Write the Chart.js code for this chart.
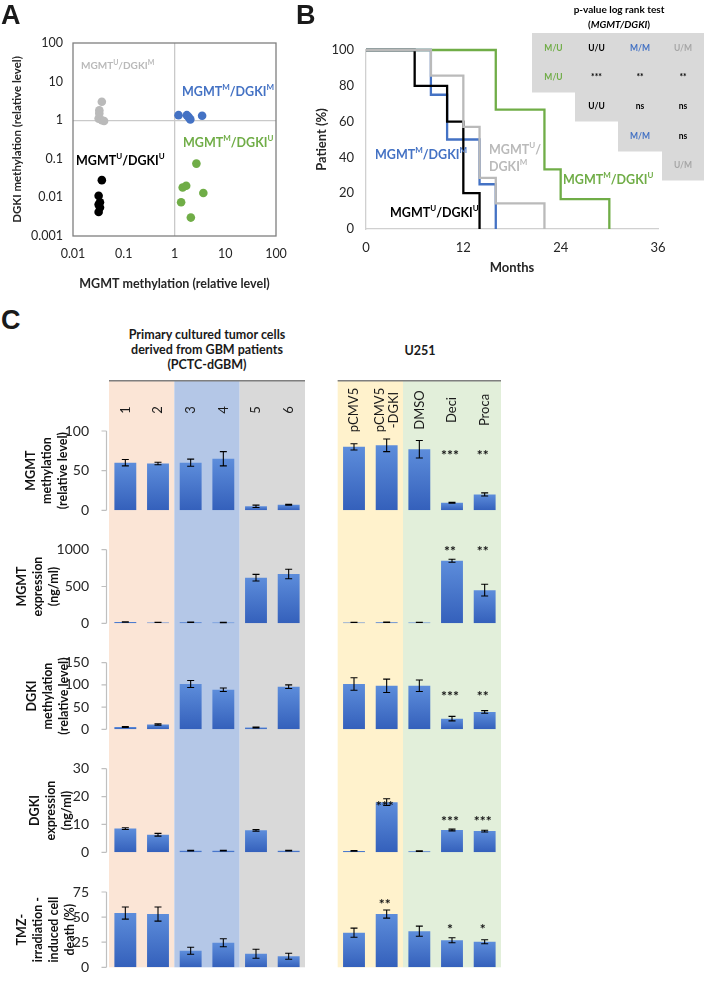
<!DOCTYPE html>
<html>
<head>
<meta charset="utf-8">
<title>MGMT / DGKI methylation</title>
<script src="https://cdn.jsdelivr.net/npm/chart.js@4.4.1/dist/chart.umd.min.js"></script>
<style>
  body { margin: 0; background: #fff; }
  #page { position: relative; width: 704px; height: 982px; overflow: hidden; font-family: Lato, sans-serif; color: #1a1a1a; }
  canvas { position: absolute; }
  .letter { position: absolute; font: bold 27px "Liberation Sans", Arial, sans-serif; line-height: 1; z-index: 2; }
  .head { position: absolute; font-weight: bold; font-size: 12.5px; line-height: 15px; text-align: center; z-index: 2; }
</style>
</head>
<body>
<div id="page">
  <canvas id="chartA" width="297" height="300" style="left:0;top:0"></canvas>
  <canvas id="chartB" width="407" height="300" style="left:297px;top:0"></canvas>
  <canvas id="c1" width="520" height="154" style="left:0;top:376px"></canvas>
  <canvas id="c2" width="520" height="113" style="left:0;top:530px"></canvas>
  <canvas id="c3" width="520" height="106" style="left:0;top:643px"></canvas>
  <canvas id="c4" width="520" height="123" style="left:0;top:749px"></canvas>
  <canvas id="c5" width="520" height="115" style="left:0;top:872px"></canvas>
  <div class="letter" style="left:1px;top:2px">A</div>
  <div class="letter" style="left:296px;top:2px">B</div>
  <div class="letter" style="left:1px;top:307px">C</div>
  <div class="head" style="left:107px;width:200px;top:327px">Primary cultured tumor cells<br>derived from GBM patients<br>(PCTC-dGBM)</div>
  <div class="head" style="left:370px;width:100px;top:343px">U251</div>
</div>
<script>
// ---- panel A : methylation scatter (log / log)
const aTicksX = [0.01, 0.1, 1, 10, 100];
const aTicksY = [0.001, 0.01, 0.1, 1, 10, 100];
const umX = [0.037, 0.033, 0.033, 0.032, 0.037, 0.041];
const umY = [3.0, 1.8, 1.5, 1.1, 1.0, 0.95];
const mmX = [1.2, 1.75, 1.9, 2.05, 3.5];
const mmY = [1.35, 1.35, 1.2, 1.05, 1.3];
const muX = [2.7, 1.45, 1.7, 3.7, 1.35, 2.1];
const muY = [0.075, 0.018, 0.02, 0.013, 0.0075, 0.003];
const uuX = [0.037, 0.032, 0.034, 0.032, 0.034, 0.032];
const uuY = [0.028, 0.011, 0.0075, 0.0065, 0.0055, 0.0042];

// ---- panel B : survival (months, % patients)
const bTicksX = [0, 12, 24, 36];
const bTicksY = [0, 20, 40, 60, 80, 100];
const uuMonths = [0, 6, 10, 12, 14];
const uuSurv = [100, 80, 60, 20, 0];
const mmMonths = [0, 8, 10, 14, 16];
const mmSurv = [100, 75, 50, 25, 0];
const umMonths = [0, 8, 12, 14, 16, 22];
const umSurv = [100, 85.7, 57.1, 28.6, 14.3, 0];
const muMonths = [0, 16, 22, 24, 30];
const muSurv = [100, 66.7, 33.3, 16.7, 0];
const tableRows = [
  ['M/U', 'U/U', 'M/M', 'U/M'],
  ['M/U', '***', '**', '**'],
  ['U/U', 'ns', 'ns'],
  ['M/M', 'ns'],
  ['U/M']
];

// ---- panel C : cell lines
const cCategories = ['1', '2', '3', '4', '5', '6', '', 'pCMV5', ['pCMV5', '-DGKI'], 'DMSO', 'Deci', 'Proca'];
const mgmtMethTicks = [0, 50, 100];
const mgmtMeth = [60, 59, 60, 65, 5, 7, null, 80, 82, 77, 9.5, 20];
const mgmtMethErr = [4, 1.5, 4.5, 9, 1.5, 0.5, null, 4, 8, 11, 0.5, 2];
const mgmtMethStars = ['', '', '', '', '', '', '', '', '', '', '***', '**'];
const mgmtExprTicks = [0, 500, 1000];
const mgmtExpr = [18, 12, 15, 10, 620, 670, null, 12, 14, 12, 850, 450];
const mgmtExprErr = [3, 2, 3, 2, 45, 65, null, 2, 2, 2, 20, 80];
const mgmtExprStars = ['', '', '', '', '', '', '', '', '', '', '**', '**'];
const dgkiMethTicks = [0, 50, 100, 150];
const dgkiMeth = [5, 11, 102, 89, 4, 96, null, 102, 98, 98, 24, 39];
const dgkiMethErr = [1, 1.5, 8, 4, 1, 4, null, 14, 15, 13, 5, 3];
const dgkiMethStars = ['', '', '', '', '', '', '', '', '', '', '***', '**'];
const dgkiExprTicks = [0, 10, 20, 30];
const dgkiExpr = [8.5, 6.3, 0.6, 0.6, 7.9, 0.6, null, 0.5, 18, 0.4, 8, 7.6];
const dgkiExprErr = [0.3, 0.5, 0.1, 0.1, 0.3, 0.1, null, 0.1, 1.2, 0.1, 0.3, 0.3];
const dgkiExprStars = ['', '', '', '', '', '', '', '', '***', '', '***', '***'];
const tmzTicks = [0, 25, 50, 75];
const tmzDeath = [54, 53, 16.5, 24.5, 13.5, 11, null, 34.5, 53, 36, 27, 25.5];
const tmzDeathErr = [6, 7, 3.5, 4, 4.5, 3, null, 4.5, 4, 5, 2.5, 2];
const tmzDeathStars = ['', '', '', '', '', '', '', '', '**', '', '*', '*'];

const blueC = '#4472c4', greenC = '#70ad47', grayC = '#bababa', blackC = '#000000';
const groupColor = { 'M/U': greenC, 'U/U': blackC, 'M/M': blueC, 'U/M': '#a6a6a6' };

Chart.defaults.font.family = 'Lato, "Open Sans", sans-serif';
Chart.defaults.color = '#262626';
Chart.defaults.animation = false;
Chart.defaults.plugins.legend.display = false;
Chart.defaults.plugins.tooltip.enabled = false;

const fixTicks = list => scale => { scale.ticks = list.map(v => ({ value: v })); };
const noGrid = { drawTicks: false, color: 'rgba(0,0,0,0)' };

// text with one-letter superscripts written as ^X
function drawRich(ctx, text, x, y, size, color) {
  const parts = text.split(/(\^.)/).filter(Boolean).map(p => p[0] === '^' ? { t: p[1], sup: true } : { t: p, sup: false });
  const big = 'bold ' + size + 'px Lato', small = 'bold ' + Math.round(size * 0.66) + 'px Lato';
  ctx.save();
  ctx.fillStyle = color;
  ctx.textBaseline = 'middle';
  ctx.textAlign = 'left';
  let cx = x;
  parts.forEach(p => {
    ctx.font = p.sup ? small : big;
    ctx.fillText(p.t, cx, p.sup ? y - size * 0.33 : y);
    cx += ctx.measureText(p.t).width;
  });
  ctx.restore();
}

const frameA = {
  id: 'frameA',
  beforeDatasetsDraw(chart) {
    const { ctx, chartArea: a } = chart;
    ctx.save();
    ctx.strokeStyle = '#7f7f7f';
    ctx.lineWidth = 1.3;
    ctx.strokeRect(a.left, a.top, a.right - a.left, a.bottom - a.top);
    ctx.restore();
  },
  afterDraw(chart) {
    const ctx = chart.ctx;
    drawRich(ctx, 'MGMT^U/DGKI^M', 81, 66, 10, grayC);
    drawRich(ctx, 'MGMT^M/DGKI^M', 182, 92, 12.5, blueC);
    drawRich(ctx, 'MGMT^M/DGKI^U', 183, 143, 12.5, greenC);
    drawRich(ctx, 'MGMT^U/DGKI^U', 76, 161, 12.5, blackC);
  }
};

const pts = (xs, ys) => xs.map((x, i) => ({ x, y: ys[i] }));

new Chart(document.getElementById('chartA'), {
  type: 'scatter',
  data: {
    datasets: [
      { data: pts(umX, umY), backgroundColor: grayC },
      { data: pts(mmX, mmY), backgroundColor: blueC },
      { data: pts(muX, muY), backgroundColor: greenC },
      { data: pts(uuX, uuY), backgroundColor: blackC }
    ]
  },
  options: {
    responsive: false,
    layout: { padding: { left: 6, right: 21, top: 43, bottom: 5 } },
    elements: { point: { radius: 4.3, borderWidth: 0 } },
    scales: {
      x: {
        type: 'logarithmic', min: 0.01, max: 100,
        afterBuildTicks: fixTicks(aTicksX),
        afterFit: s => { s.height = 59; },
        ticks: { autoSkip: false, maxRotation: 0, padding: 10, font: { size: 12.5 }, callback: v => String(v) },
        grid: { drawTicks: false, lineWidth: 1.3, color: c => (c.tick && c.tick.value === 1) ? '#c9c9c9' : 'rgba(0,0,0,0)' },
        border: { display: false },
        title: { display: true, text: 'MGMT methylation (relative level)', font: { size: 12.5, weight: 'bold' }, padding: { top: 4, bottom: 4 } }
      },
      y: {
        type: 'logarithmic', min: 0.001, max: 100,
        afterBuildTicks: fixTicks(aTicksY),
        afterFit: s => { s.width = 67; },
        ticks: { autoSkip: false, padding: 10, font: { size: 12.5 }, callback: v => String(v) },
        grid: { drawTicks: false, lineWidth: 1.3, color: c => (c.tick && c.tick.value === 1) ? '#c9c9c9' : 'rgba(0,0,0,0)' },
        border: { display: false },
        title: { display: true, text: 'DGKI methylation (relative level)', font: { size: 11.5, weight: 'bold' }, padding: { top: 4, bottom: 4 } }
      }
    }
  },
  plugins: [frameA]
});

// ---- panel B
const tableB = {
  id: 'tableB',
  afterDraw(chart) {
    const ctx = chart.ctx;
    const colEdge = [235, 278, 321, 365, 407];
    const rowEdge = [33, 63, 92, 121, 151, 180];
    ctx.save();
    ctx.fillStyle = '#d9d9d9';
    tableRows.forEach((row, r) => {
      const c0 = Math.max(0, r - 1);
      ctx.fillRect(colEdge[c0], rowEdge[r], 407 - colEdge[c0], rowEdge[r + 1] - rowEdge[r] + 0.5);
    });
    ctx.textAlign = 'center';
    ctx.textBaseline = 'middle';
    ctx.font = 'bold 8.5px Lato';
    tableRows.forEach((row, r) => {
      const c0 = Math.max(0, r - 1);
      row.forEach((txt, k) => {
        const c = c0 + k;
        ctx.fillStyle = groupColor[txt] || '#000';
        ctx.fillText(txt, (colEdge[c] + colEdge[c + 1]) / 2, (rowEdge[r] + rowEdge[r + 1]) / 2);
      });
    });
    ctx.fillStyle = '#000';
    ctx.font = 'bold 10px Lato';
    ctx.fillText('p-value log rank test', 322, 10);
    const a = '(', b = 'MGMT/DGKI', c = ')';
    const wa = ctx.measureText(a).width, wc = ctx.measureText(c).width;
    ctx.font = 'italic bold 10px Lato';
    const wb = ctx.measureText(b).width;
    let x = 322 - (wa + wb + wc) / 2;
    ctx.textAlign = 'left';
    ctx.font = 'bold 10px Lato'; ctx.fillText(a, x, 25); x += wa;
    ctx.font = 'italic bold 10px Lato'; ctx.fillText(b, x, 25); x += wb;
    ctx.font = 'bold 10px Lato'; ctx.fillText(c, x, 25);
    ctx.restore();
    drawRich(ctx, 'MGMT^M/DGKI^M', 78, 155, 12.5, blueC);
    drawRich(ctx, 'MGMT^U/', 192, 150, 12.5, grayC);
    drawRich(ctx, 'DGKI^M', 192, 167, 12.5, grayC);
    drawRich(ctx, 'MGMT^M/DGKI^U', 266, 180, 12.5, greenC);
    drawRich(ctx, 'MGMT^U/DGKI^U', 93, 213, 12.5, blackC);
  }
};

const kmSets = [
  { months: umMonths, surv: umSurv, color: grayC },
  { months: uuMonths, surv: uuSurv, color: blackC },
  { months: mmMonths, surv: mmSurv, color: blueC },
  { months: muMonths, surv: muSurv, color: greenC }
];

new Chart(document.getElementById('chartB'), {
  type: 'scatter',
  data: {
    datasets: kmSets.map(k => ({
      data: pts(k.months, k.surv),
      borderColor: k.color, borderWidth: 2.3, showLine: true, stepped: true,
      pointRadius: 0, fill: false, clip: 4
    }))
  },
  options: {
    responsive: false,
    layout: { padding: { left: 13, right: 46, top: 50, bottom: 20 } },
    scales: {
      x: {
        type: 'linear', min: 0, max: 36,
        afterBuildTicks: fixTicks(bTicksX),
        afterFit: s => { s.height = 51; },
        ticks: { autoSkip: false, maxRotation: 0, padding: 11, font: { size: 13 } },
        grid: noGrid,
        border: { color: '#d0d0d0', width: 1.3 },
        title: { display: true, text: 'Months', font: { size: 13, weight: 'bold' }, padding: { top: 4, bottom: 4 } }
      },
      y: {
        type: 'linear', min: 0, max: 100,
        afterBuildTicks: fixTicks(bTicksY),
        afterFit: s => { s.width = 56; },
        ticks: { autoSkip: false, padding: 12, font: { size: 13 } },
        grid: noGrid,
        border: { color: '#d0d0d0', width: 1.3 },
        title: { display: true, text: 'Patient (%)', font: { size: 13, weight: 'bold' }, padding: { top: 4, bottom: 4 } }
      }
    }
  },
  plugins: [tableB]
});

// ---- panel C
const bands = [
  { from: 0, to: 1, color: '#fbe5d6' },
  { from: 2, to: 3, color: '#b4c7e7' },
  { from: 4, to: 5, color: '#d9d9d9' },
  { from: 7, to: 8, color: '#fff2cc' },
  { from: 9, to: 11, color: '#e2efda' }
];

const rowDecor = {
  id: 'rowDecor',
  beforeDraw(chart, args, o) {
    const { ctx, chartArea: a, scales: { x, y } } = chart;
    const half = (x.getPixelForValue(1) - x.getPixelForValue(0)) / 2;
    const top = o.first ? a.top - 51 : 0;
    const bottom = o.last ? a.bottom : chart.height;
    ctx.save();
    bands.forEach(b => {
      const l = x.getPixelForValue(b.from) - half, r = x.getPixelForValue(b.to) + half;
      ctx.fillStyle = b.color;
      ctx.fillRect(l, top, r - l, bottom - top);
    });
    const ax = a.left - 2.5;
    ctx.strokeStyle = '#bfbfbf';
    ctx.lineWidth = 1.2;
    ctx.beginPath();
    ctx.moveTo(ax, y.getPixelForValue(y.max));
    ctx.lineTo(ax, y.getPixelForValue(0));
    y.ticks.forEach(t => {
      const py = y.getPixelForValue(t.value);
      ctx.moveTo(ax - 5, py);
      ctx.lineTo(ax, py);
    });
    ctx.stroke();
    if (o.first) {
      ctx.strokeStyle = '#7f7f7f';
      ctx.lineWidth = 1.5;
      ctx.beginPath();
      [[0, 5], [7, 11]].forEach(([f, t]) => {
        ctx.moveTo(x.getPixelForValue(f) - half, top + 0.75);
        ctx.lineTo(x.getPixelForValue(t) + half, top + 0.75);
      });
      ctx.stroke();
      ctx.fillStyle = '#1a1a1a';
      ctx.font = '13px Lato';
      ctx.textAlign = 'center';
      ctx.textBaseline = 'middle';
      cCategories.forEach((lab, i) => {
        if (!lab) return;
        const lines = Array.isArray(lab) ? lab : [lab];
        ctx.save();
        ctx.translate(x.getPixelForValue(i), a.top - 21);
        ctx.rotate(-Math.PI / 2);
        lines.forEach((s, j) => ctx.fillText(s, 0, (j - (lines.length - 1) / 2) * 14));
        ctx.restore();
      });
    }
    ctx.restore();
  },
  afterDatasetsDraw(chart, args, o) {
    const { ctx, scales: { x, y } } = chart;
    const vals = chart.data.datasets[0].data;
    ctx.save();
    ctx.strokeStyle = '#000';
    ctx.lineWidth = 1.1;
    ctx.beginPath();
    vals.forEach((v, i) => {
      if (v == null || !o.errors[i]) return;
      const px = x.getPixelForValue(i);
      const hi = y.getPixelForValue(v + o.errors[i]), lo = y.getPixelForValue(Math.max(0, v - o.errors[i]));
      ctx.moveTo(px, hi); ctx.lineTo(px, lo);
      ctx.moveTo(px - 3.5, hi); ctx.lineTo(px + 3.5, hi);
      ctx.moveTo(px - 3.5, lo); ctx.lineTo(px + 3.5, lo);
    });
    ctx.stroke();
    // asterisks sit high in the em box, so push them down a little
    ctx.fillStyle = '#111';
    ctx.font = 'bold 14px Lato';
    ctx.textAlign = 'center';
    ctx.textBaseline = 'middle';
    o.stars.forEach((s, i) => {
      if (!s) return;
      ctx.fillText(s, x.getPixelForValue(i) - 2, y.getPixelForValue(o.starAt[i]) + 3);
    });
    ctx.restore();
  }
};

const rowSpecs = [
  { id: 'c1', values: mgmtMeth, errors: mgmtMethErr, stars: mgmtMethStars, ticks: mgmtMethTicks,
    title: ['MGMT', 'methylation', '(relative level)'], titlePad: 23, pad: { top: 55, bottom: 15 },
    starAt: { 10: 73, 11: 73 }, first: true },
  { id: 'c2', values: mgmtExpr, errors: mgmtExprErr, stars: mgmtExprStars, ticks: mgmtExprTicks,
    title: ['MGMT', 'expression', '(ng/ml)'], titlePad: 14, pad: { top: 15, bottom: 14 },
    starAt: { 10: 1020, 11: 1020 } },
  { id: 'c3', values: dgkiMeth, errors: dgkiMethErr, stars: dgkiMethStars, ticks: dgkiMethTicks,
    title: ['DGKI', 'methylation', '(relative level)'], titlePad: 24, pad: { top: 14, bottom: 8 },
    starAt: { 10: 80, 11: 80 } },
  { id: 'c4', values: dgkiExpr, errors: dgkiExprErr, stars: dgkiExprStars, ticks: dgkiExprTicks,
    title: ['DGKI', 'expression', '(ng/ml)'], titlePad: 27, pad: { top: 9, bottom: 19 },
    starAt: { 8: 17.4, 10: 12.3, 11: 12.3 } },
  { id: 'c5', values: tmzDeath, errors: tmzDeathErr, stars: tmzDeathStars, ticks: tmzTicks,
    title: ['TMZ-', 'irradiation -', 'induced cell', 'death (%)'], titlePad: 14, pad: { top: 20, bottom: 10 },
    starAt: { 8: 66, 10: 40.6, 11: 40.6 }, last: true }
];

function barFill(c) {
  const chart = c.chart, v = c.raw;
  if (v == null || !chart.chartArea) return blueC;
  const y = chart.scales.y;
  const top = y.getPixelForValue(v), base = y.getPixelForValue(0);
  const g = chart.ctx.createLinearGradient(0, top, 0, base + 0.01);
  g.addColorStop(0, '#5d8ddb');
  g.addColorStop(1, '#3460bb');
  return g;
}

rowSpecs.forEach(r => {
  new Chart(document.getElementById(r.id), {
    type: 'bar',
    data: {
      labels: cCategories,
      datasets: [{ data: r.values, backgroundColor: barFill, borderWidth: 0, categoryPercentage: 1, barPercentage: 0.67 }]
    },
    options: {
      responsive: false,
      layout: { padding: { left: 0, right: 19, top: r.pad.top, bottom: r.pad.bottom } },
      scales: {
        x: { display: false, offset: true, ticks: { autoSkip: false } },
        y: {
          min: 0, max: r.ticks[r.ticks.length - 1],
          afterBuildTicks: fixTicks(r.ticks),
          afterFit: s => { s.width = 109; },
          ticks: { padding: 12, font: { size: 14, lineHeight: 1.1 }, color: '#262626', callback: v => String(v) },
          grid: { display: false },
          border: { display: false },
          title: { display: true, text: r.title, color: '#111', font: { size: 12.5, weight: 'bold', lineHeight: 1.28 }, padding: { top: r.titlePad, bottom: 0 } }
        }
      },
      plugins: {
        rowDecor: { errors: r.errors, stars: r.stars, starAt: r.starAt, first: !!r.first, last: !!r.last }
      }
    },
    plugins: [rowDecor]
  });
});
</script>
</body>
</html>
